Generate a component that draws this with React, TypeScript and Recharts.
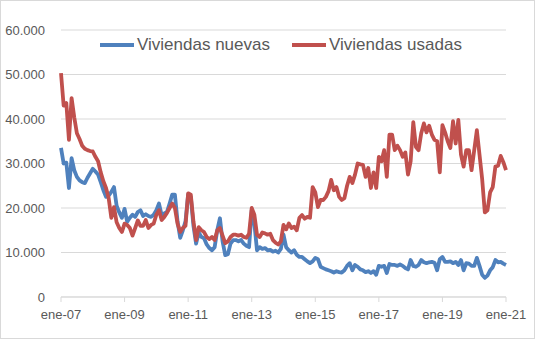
import React from 'react';
import { LineChart, Line, XAxis, YAxis, CartesianGrid } from 'recharts';

// Spanish month abbreviations and the years covered (ene-07 .. ene-21)
const MONTHS = ['ene', 'feb', 'mar', 'abr', 'may', 'jun', 'jul', 'ago', 'sep', 'oct', 'nov', 'dic'];
const YEARS = [2007, 2008, 2009, 2010, 2011, 2012, 2013, 2014, 2015, 2016, 2017, 2018, 2019, 2020, 2021];

const Y_TICKS = [0, 10000, 20000, 30000, 40000, 50000, 60000];

// Viviendas nuevas (monthly)
const nuevas = [
  33500, 30000, 30200, 24500, 31200, 28500, 27000, 26200, 25800, 25600, 26800, 27800,
  28800, 28200, 27500, 25800, 24000, 22500, 22800, 23600, 24700, 20500, 19000, 17800,
  19800, 16900, 17800, 18500, 18000, 19100, 19500, 18200, 18600, 18200, 18000, 18500,
  19500, 21000, 18400, 18800, 19100, 21000, 23000, 23000, 17000, 13300, 15000, 17000,
  23000, 22500, 16000, 12000, 14500, 13500, 13200, 11800, 11000, 10500, 11200, 15000,
  17700, 12500, 9400, 9600, 12000, 12800, 12800, 12500, 12800, 12000, 11500, 11200,
  19500, 16500, 10500, 11200, 10800, 11000, 10500, 10600, 10200, 10400, 10000, 10800,
  14000, 11200, 10500, 10000, 10500, 9500, 9000, 9000, 8500, 8000, 7600, 8000,
  8800, 8500, 6800, 6500, 6200, 6000, 5800, 5500, 5800, 5600, 5500, 6000,
  7000, 7600, 6000, 7200, 6800, 6200, 6000, 5600, 5800, 5400, 5800, 5000,
  7000, 6800, 7000, 5400, 7400, 7200, 7200, 7000, 7300, 7000, 6500, 6200,
  8300, 7000, 6800, 7200, 8300, 7800, 7600, 7800, 7900, 7700, 6000, 8500,
  9000, 7900, 7900, 8000, 7600, 7900, 7200, 8300, 6000, 7600, 7500, 7000,
  7000, 8800, 7000, 5000, 4300, 4800, 6000, 6700, 8300, 7800, 7900, 7500,
  7200,
];

// Viviendas usadas (monthly)
const usadas = [
  50300, 43000, 43600, 35300, 44700, 40400, 36800, 35500, 34000, 33300, 33000, 32800,
  32700, 31500, 30500, 28000, 26000, 24500, 22200, 17800, 20200, 16800, 15500, 14600,
  16500, 16200, 15500, 13800, 15500, 17200, 16000, 16000, 17300, 15500, 16200, 16500,
  18500, 19500, 17300, 18000, 18900, 20000, 21000, 20000, 16500, 14600, 15500, 16000,
  23300, 23000, 17000, 12800, 15700, 15000, 14600, 13500, 13000, 13500, 12800, 15000,
  15500, 13800, 12100, 12500, 13500, 14000, 14000, 13800, 14000, 13500, 13300, 14200,
  20000, 18500, 14000, 13500, 14500, 14300, 14000, 14200, 12800, 12200, 11800, 12500,
  16200, 15200, 16500, 15500, 15800, 15000, 17800, 18400, 17600, 18000, 17800, 24700,
  23500, 20200, 21800, 21800, 22500, 23800, 26300, 24000, 24700, 22500, 21800, 22200,
  25000, 27000, 25600, 27500, 30000, 29800, 29700, 27000, 29000, 24500, 28000, 24500,
  31500, 30500, 33000, 27000, 36500, 36500, 33000, 34000, 33000, 31500, 32500, 27500,
  30500, 39300, 33700, 33000, 36800, 39000, 37000, 38500, 36500, 35300, 35000, 28000,
  38600, 37000, 35000, 33500, 39500, 34500, 39800, 32000, 29300, 33000, 33000, 28500,
  33000, 37500, 32000, 26500, 19000, 19500, 23500, 24700, 29300, 29500, 31700, 30300,
  28500,
];

const labels: string[] = [];
YEARS.forEach(y => MONTHS.forEach(m => labels.push(`${m}-${String(y).slice(2)}`)));

const data = nuevas.map((v, i) => ({ label: labels[i], nuevas: v, usadas: usadas[i] }));

const BLUE = '#4f81bd';
const RED = '#c0504d';
const TEXT = '#595959';
const GRID = '#d9d9d9';
const FONT = '"Liberation Sans", Arial, sans-serif';

const fmt = (v: number) => String(v).replace(/\B(?=(\d{3})+(?!\d))/g, '.');

const LegendItem = ({ color, text }: { color: string; text: string }) => (
  <div style={{ display: 'flex', alignItems: 'center' }}>
    <div style={{ width: 34, height: 4, background: color, marginRight: 3 }} />
    <span>{text}</span>
  </div>
);

export default function App() {
  return (
    <div
      style={{
        position: 'absolute',
        left: 0,
        top: 0,
        width: 535,
        height: 339,
        boxSizing: 'border-box',
        border: `1px solid ${GRID}`,
        background: '#fff',
        fontFamily: FONT,
      }}
    >
      <div style={{ position: 'absolute', left: -1, top: -1 }}>
        <LineChart width={535} height={339} data={data} margin={{ top: 30, right: 29, bottom: 0, left: 0 }}>
          <CartesianGrid vertical={false} stroke={GRID} />
          <XAxis
            dataKey="label"
            interval={23}
            height={42}
            padding={{ left: 0, right: 0 }}
            stroke={GRID}
            tickSize={5}
            tickMargin={8}
            tick={{ fill: TEXT, fontSize: 13, fontFamily: FONT }}
          />
          <YAxis
            width={61}
            domain={[0, 60000]}
            ticks={Y_TICKS}
            axisLine={false}
            tickLine={false}
            tickSize={0}
            tickMargin={16}
            tickFormatter={fmt}
            tick={{ fill: TEXT, fontSize: 13, fontFamily: FONT }}
          />
          <Line
            type="linear"
            dataKey="nuevas"
            stroke={BLUE}
            strokeWidth={3.8}
            dot={false}
            strokeLinejoin="round"
            isAnimationActive={false}
          />
          <Line
            type="linear"
            dataKey="usadas"
            stroke={RED}
            strokeWidth={3.8}
            dot={false}
            strokeLinejoin="round"
            isAnimationActive={false}
          />
        </LineChart>
      </div>
      <div
        style={{
          position: 'absolute',
          left: 99,
          top: 33,
          display: 'flex',
          gap: 22,
          fontSize: 17,
          color: TEXT,
          lineHeight: '22px',
        }}
      >
        <LegendItem color={BLUE} text="Viviendas nuevas" />
        <LegendItem color={RED} text="Viviendas usadas" />
      </div>
    </div>
  );
}
